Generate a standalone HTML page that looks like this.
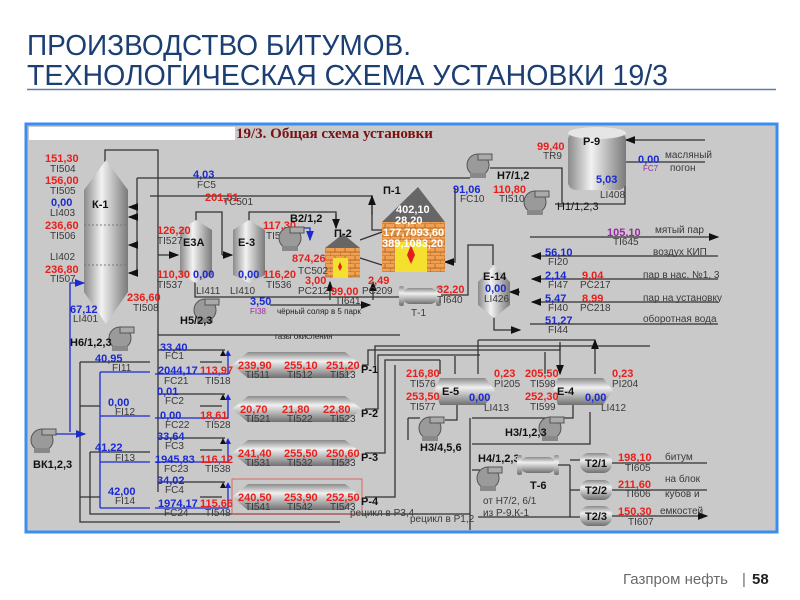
<!DOCTYPE html>
<html><head><meta charset="utf-8"><style>
html,body{margin:0;padding:0;background:#fff;width:800px;height:600px;overflow:hidden}
svg{display:block}
text{font-family:"Liberation Sans",sans-serif}
.r{fill:#e8201c;font-size:11px;font-weight:bold}
.b{fill:#1a2ad0;font-size:11px;font-weight:bold}
.g{fill:#3a3a3a;font-size:10px}
.k{fill:#111;font-size:11px;font-weight:bold}
.w{fill:#fff;font-size:11px;font-weight:bold}
.p{fill:#9a2aa0;font-size:11px;font-weight:bold}
.s{fill:#222;font-size:8px}
.ln{stroke:#333;stroke-width:1.3;fill:none}
.bl{stroke:#1a2ad0;stroke-width:1.3;fill:none}
</style></head><body>
<svg width="800" height="600" viewBox="0 0 800 600" xmlns="http://www.w3.org/2000/svg">
<defs>
<linearGradient id="vg" x1="0" x2="1" y1="0" y2="0"><stop offset="0" stop-color="#8a8a8a"/><stop offset=".4" stop-color="#f2f2f2"/><stop offset="1" stop-color="#7a7a7a"/></linearGradient>
<linearGradient id="hg" x1="0" x2="0" y1="0" y2="1"><stop offset="0" stop-color="#8a8a8a"/><stop offset=".35" stop-color="#f0f0f0"/><stop offset="1" stop-color="#707070"/></linearGradient>
<pattern id="br" width="10" height="8" patternUnits="userSpaceOnUse"><rect width="10" height="8" fill="#f0a050"/><path d="M0 4H10M0 8H10M5 0V4M0 4V8" stroke="#9a5a20" stroke-width=".7"/></pattern>
<marker id="a" markerWidth="8" markerHeight="8" refX="7" refY="4" orient="auto"><path d="M0 1L8 4L0 7z" fill="#111"/></marker>
<marker id="ab" markerWidth="8" markerHeight="8" refX="7" refY="4" orient="auto"><path d="M0 1L8 4L0 7z" fill="#1a2ad0"/></marker>
<g id="pump"><circle cx="0" cy="0" r="11" fill="#9a9a9a" stroke="#555"/><rect x="0" y="-11" width="14" height="6" fill="#aaa" stroke="#555"/><rect x="-8" y="8" width="16" height="5" fill="#888"/></g>
<g id="hx"><rect x="-18" y="-8" width="36" height="16" rx="8" fill="url(#hg)"/><rect x="-21" y="-10" width="5" height="20" rx="2" fill="url(#hg)"/><rect x="16" y="-10" width="5" height="20" rx="2" fill="url(#hg)"/></g>
</defs>

<text x="27" y="55" textLength="384" lengthAdjust="spacingAndGlyphs" style="font-size:29px;fill:#1b3f72">ПРОИЗВОДСТВО БИТУМОВ.</text>
<text x="27" y="85" textLength="641" lengthAdjust="spacingAndGlyphs" style="font-size:29px;fill:#1b3f72">ТЕХНОЛОГИЧЕСКАЯ СХЕМА УСТАНОВКИ 19/3</text>
<line x1="27" y1="89.5" x2="776" y2="89.5" stroke="#5a7fae" stroke-width="1.5"/>

<rect x="26" y="124" width="751" height="408" fill="#c9c9c9" stroke="#3a8ef0" stroke-width="3"/>
<rect x="29" y="127" width="206" height="13" fill="#fff"/>
<text x="236" y="138" style="font-family:'Liberation Serif',serif;font-size:15px;font-weight:bold;fill:#7a1010">19/3. Общая схема установки</text>

<path class="ln" d="M105 162V150H158V492"/>
<path class="ln" d="M137 178H470"/>
<path class="ln" d="M137 178V275"/>
<path class="ln" marker-end="url(#a)" d="M137 207H129"/>
<path class="ln" marker-end="url(#a)" d="M137 217H129"/>
<path class="ln" marker-end="url(#a)" d="M137 245H129"/>
<path class="ln" marker-end="url(#a)" d="M137 273H129"/>
<path class="ln" d="M150 196H372V230H382"/>
<path class="ln" marker-end="url(#a)" d="M372 215V196"/>
<path class="ln" marker-end="url(#a)" d="M158 255H178"/>
<path class="ln" d="M196 222V212H222V255"/>
<path class="ln" marker-end="url(#a)" d="M222 255H232"/>
<path class="ln" d="M249 222V212H336V228"/>
<path class="ln" marker-end="url(#a)" d="M336 214V228"/>
<path class="bl" marker-end="url(#ab)" d="M300 228H310V240"/>
<path class="ln" d="M195 282V297H400"/>
<path class="ln" marker-end="url(#a)" d="M270 305H370"/>
<path class="ln" d="M360 258L382 265M360 240L382 232"/>
<path class="ln" marker-end="url(#a)" d="M330 300V282"/>
<path class="ln" marker-end="url(#a)" d="M373 300V282"/>
<path class="ln" marker-end="url(#a)" d="M455 188V262H445"/>
<path class="ln" d="M440 295H468V245H493V265"/>
<path class="ln" marker-end="url(#a)" d="M494 315V330H520"/>
<path class="ln" marker-end="url(#a)" d="M520 292H510"/>
<path class="ln" d="M490 168H562V204M555 204H625V140H705M625 162H705"/>
<path class="ln" marker-end="url(#a)" d="M632 140H626"/>
<path class="ln" d="M158 335H400"/>
<path class="ln" marker-end="url(#a)" d="M530 237H718"/>
<path class="ln" marker-end="url(#a)" d="M718 256H532"/>
<path class="ln" marker-end="url(#a)" d="M718 279H532"/>
<path class="ln" marker-end="url(#a)" d="M718 302H532"/>
<path class="ln" d="M530 324H718"/>

<path d="M84 190L106 160L128 190V292L106 324L84 292Z" fill="url(#vg)"/>
<path d="M84 225H128M84 265H128" stroke="#777" stroke-dasharray="2 2"/>
<text class="k" x="92" y="208">К-1</text>
<text class="r" x="45" y="162">151,30</text><text class="g" x="50" y="172">TI504</text>
<text class="r" x="45" y="184">156,00</text><text class="g" x="50" y="194">TI505</text>
<text class="b" x="51" y="206">0,00</text><text class="g" x="50" y="216">LI403</text>
<text class="r" x="45" y="229">236,60</text><text class="g" x="50" y="239">TI506</text>
<text class="g" x="50" y="260">LI402</text>
<text class="r" x="45" y="273">236,80</text><text class="g" x="50" y="282">TI507</text>
<path class="bl" marker-end="url(#ab)" d="M70 432V283H84"/>
<text class="b" x="70" y="313">67,12</text><text class="g" x="73" y="322">LI401</text>
<text class="r" x="127" y="301">236,60</text><text class="g" x="133" y="311">TI508</text>

<path d="M180 230L196 220L212 230V275L196 283L180 275Z" fill="url(#vg)"/>
<path d="M233 230L249 220L265 230V275L249 283L233 275Z" fill="url(#vg)"/>
<text class="k" x="183" y="246">Е3А</text><text class="k" x="238" y="246">Е-3</text>
<text class="b" x="193" y="278">0,00</text><text class="g" x="196" y="294">LI411</text>
<text class="b" x="238" y="278">0,00</text><text class="g" x="230" y="294">LI410</text>
<text class="r" x="157" y="234">126,20</text><text class="g" x="157" y="244">TI527</text>
<text class="r" x="157" y="278">110,30</text><text class="g" x="157" y="288">TI537</text>
<text class="r" x="263" y="278">116,20</text><text class="g" x="266" y="288">TI536</text>
<text class="r" x="263" y="229">117,30</text><text class="g" x="266" y="239">TI526</text>
<text class="k" x="290" y="222">В2/1,2</text>
<use href="#pump" x="290" y="238"/>
<text class="r" x="205" y="201">201,51</text><text class="g" x="223" y="205">TC501</text>
<text class="b" x="193" y="178">4,03</text><text class="g" x="197" y="188">FC5</text>

<path d="M325 248L343 234L360 248Z" fill="#666"/>
<rect x="325" y="248" width="35" height="30" fill="url(#br)"/>
<rect x="333" y="258" width="15" height="20" fill="#f5e030"/>
<path d="M340 262l2 5-2 4-2-4z" fill="#e02020"/>
<text class="k" x="334" y="237">П-2</text>
<text class="r" x="292" y="262">874,26</text><text class="g" x="298" y="274">TC502</text>
<text class="r" x="305" y="284">3,00</text><text class="g" x="298" y="294">PC212</text>
<text class="r" x="331" y="295">99,00</text><text class="g" x="335" y="304">TI641</text>

<path d="M382 222L418 187L445 222Z" fill="#666"/>
<rect x="382" y="222" width="63" height="50" fill="url(#br)"/>
<rect x="395" y="242" width="32" height="30" fill="#f5e030"/>
<path d="M411 245l4 10-4 9-4-9z" fill="#e02020"/>
<text class="k" x="383" y="194">П-1</text>
<text class="w" x="396" y="213">402,10</text>
<text class="w" x="395" y="224">28,20</text>
<text class="w" x="383" y="236">177,7093,60</text>
<text class="w" x="382" y="247">389,1083,20</text>
<text class="r" x="368" y="284">2,49</text><text class="g" x="362" y="294">PC209</text>

<use href="#hx" x="420" y="296"/>
<text class="g" x="411" y="316">Т-1</text>
<text class="r" x="437" y="293">32,20</text><text class="g" x="437" y="303">TI640</text>
<use href="#pump" x="205" y="310"/>
<text class="k" x="180" y="324">Н5/2,3</text>
<text class="b" x="250" y="305">3,50</text><text class="p" style="font-size:8px;font-weight:normal" x="250" y="314">FI38</text>
<text class="s" x="277" y="314">чёрный соляр в 5 парк</text>
<text class="s" x="275" y="339">газы окисления</text>

<path d="M478 282L494 265L510 282V305L494 318L478 305Z" fill="url(#vg)"/>
<text class="k" x="483" y="280">Е-14</text><text class="b" x="485" y="292">0,00</text><text class="g" x="484" y="302">LI426</text>

<rect x="568" y="132" width="58" height="58" rx="8" fill="url(#vg)"/>
<ellipse cx="597" cy="133" rx="29" ry="6" fill="#e5e5e5"/>
<text class="k" x="583" y="145">Р-9</text>
<text class="b" x="596" y="183">5,03</text><text class="g" x="600" y="198">LI408</text>
<text class="r" x="537" y="150">99,40</text><text class="g" x="543" y="159">TR9</text>
<use href="#pump" x="478" y="165"/>
<text class="k" x="497" y="179">Н7/1,2</text>
<text class="b" x="453" y="193">91,06</text><text class="g" x="460" y="202">FC10</text>
<text class="r" x="493" y="193">110,80</text><text class="g" x="499" y="202">TI510</text>
<use href="#pump" x="535" y="202"/>
<text class="k" style="font-weight:normal" x="557" y="210">Н1/1,2,3</text>
<text class="b" x="638" y="163">0,00</text><text class="p" style="font-size:8px;font-weight:normal" x="643" y="171">FC7</text>
<text class="g" x="665" y="158">масляный</text><text class="g" x="670" y="171">погон</text>

<text class="p" x="607" y="236">105,10</text><text class="g" x="613" y="245">TI645</text><text class="g" x="655" y="233">мятый пар</text>
<text class="b" x="545" y="256">56,10</text><text class="g" x="548" y="265">FI20</text><text class="g" x="653" y="255">воздух КИП</text>
<text class="b" x="545" y="279">2,14</text><text class="g" x="548" y="288">FI47</text><text class="r" x="582" y="279">9,04</text><text class="g" x="580" y="288">PC217</text><text class="g" x="643" y="278">пар в нас. №1, 3</text>
<text class="b" x="545" y="302">5,47</text><text class="g" x="548" y="311">FI40</text><text class="r" x="582" y="302">8,99</text><text class="g" x="580" y="311">PC218</text><text class="g" x="643" y="301">пар на установку</text>
<text class="b" x="545" y="324">51,27</text><text class="g" x="548" y="333">FI44</text><text class="g" x="643" y="322">оборотная вода</text>

<use href="#pump" x="120" y="338"/>
<text class="k" x="70" y="346">Н6/1,2,3</text>

<path class="ln" d="M80 362H150M80 362V522H340"/>
<path class="ln" d="M90 452H150M90 452V514H470"/>
<path class="ln" d="M158 350H225M158 394H225M158 438H225M158 482H225"/>
<path class="ln" d="M80 406H100M80 497H100"/>
<path class="bl" marker-end="url(#ab)" d="M48 434H85"/>
<path class="bl" d="M100 372V508M100 372H150M100 416H150M100 462H150M100 508H150"/>
<path class="bl" d="M155 374H228V352M155 418H228V396M155 462H228V440M155 508H228V484"/>
<path class="ln" d="M200 362H222M200 406H222M200 450H222M200 497H222"/>
<g fill="#111"><path d="M220 356l3-6 3 6zM220 400l3-6 3 6zM220 444l3-6 3 6zM220 488l3-6 3 6z"/></g>
<g fill="#1a2ad0"><path d="M225 356l3-6 3 6zM225 400l3-6 3 6zM225 444l3-6 3 6zM225 488l3-6 3 6z"/></g>
<use href="#pump" x="42" y="440"/>
<text class="k" x="33" y="468">ВК1,2,3</text>
<text class="b" x="95" y="362">40,95</text><text class="g" x="112" y="371">FI11</text>
<text class="b" x="108" y="406">0,00</text><text class="g" x="115" y="415">FI12</text>
<text class="b" x="95" y="451">41,22</text><text class="g" x="115" y="461">FI13</text>
<text class="b" x="108" y="495">42,00</text><text class="g" x="115" y="504">FI14</text>
<text class="b" x="160" y="351">33,40</text><text class="g" x="165" y="359">FC1</text>
<text class="b" x="158" y="374">2044,17</text><text class="g" x="164" y="384">FC21</text><text class="r" x="200" y="374">113,97</text><text class="g" x="205" y="384">TI518</text>
<text class="b" x="157" y="395">0,01</text><text class="g" x="165" y="404">FC2</text>
<text class="b" x="160" y="419">0,00</text><text class="g" x="165" y="428">FC22</text><text class="r" x="200" y="419">18,61</text><text class="g" x="205" y="428">TI528</text>
<text class="b" x="157" y="440">33,64</text><text class="g" x="165" y="449">FC3</text>
<text class="b" x="155" y="463">1945,83</text><text class="g" x="164" y="472">FC23</text><text class="r" x="200" y="463">116,12</text><text class="g" x="205" y="472">TI538</text>
<text class="b" x="157" y="484">34,02</text><text class="g" x="165" y="493">FC4</text>
<text class="b" x="158" y="507">1974,17</text><text class="g" x="164" y="516">FC24</text><text class="r" x="200" y="507">115,66</text><text class="g" x="205" y="516">TI548</text>

<g>
<path d="M232 365L248 352H345L362 365L345 378H248Z" fill="url(#hg)"/>
<path d="M232 409L248 396H345L362 409L345 422H248Z" fill="url(#hg)"/>
<path d="M232 453L248 440H345L362 453L345 466H248Z" fill="url(#hg)"/>
<path d="M232 497L248 484H345L362 497L345 510H248Z" fill="url(#hg)"/>
</g>
<rect x="232" y="479" width="130" height="35" fill="none" stroke="#e05050" stroke-width=".8"/>
<text class="r" x="238" y="369">239,90</text><text class="r" x="284" y="369">255,10</text><text class="r" x="326" y="369">251,20</text>
<text class="g" x="245" y="378">TI511</text><text class="g" x="287" y="378">TI512</text><text class="g" x="330" y="378">TI513</text>
<text class="r" x="240" y="413">20,70</text><text class="r" x="282" y="413">21,80</text><text class="r" x="323" y="413">22,80</text>
<text class="g" x="245" y="422">TI521</text><text class="g" x="287" y="422">TI522</text><text class="g" x="330" y="422">TI523</text>
<text class="r" x="238" y="457">241,40</text><text class="r" x="284" y="457">255,50</text><text class="r" x="326" y="457">250,60</text>
<text class="g" x="245" y="466">TI531</text><text class="g" x="287" y="466">TI532</text><text class="g" x="330" y="466">TI533</text>
<text class="r" x="238" y="501">240,50</text><text class="r" x="284" y="501">253,90</text><text class="r" x="326" y="501">252,50</text>
<text class="g" x="245" y="510">TI541</text><text class="g" x="287" y="510">TI542</text><text class="g" x="330" y="510">TI543</text>
<text class="k" x="361" y="373">Р-1</text><text class="k" x="361" y="417">Р-2</text><text class="k" x="361" y="461">Р-3</text><text class="k" x="361" y="505">Р-4</text>
<path class="ln" d="M362 365H368V350H560V342M375 365V346H650M365 409H378V355H480M365 453H385V360H440M365 497H395V365"/>
<path class="ln" marker-end="url(#a)" d="M440 360V374M455 356V374M545 352V374M560 346V374"/>
<path class="ln" marker-end="url(#a)" d="M478 374V340M595 374V340"/>
<path class="ln" d="M478 340H595"/>
<text class="g" x="350" y="516">рецикл в Р3,4</text>
<text class="g" x="410" y="522">рецикл в Р1,2</text>

<path d="M440 378H485L495 390L485 405H440L435 390Z" fill="url(#hg)"/>
<path d="M558 378H603L613 390L603 405H558L553 390Z" fill="url(#hg)"/>
<text class="k" x="442" y="395">Е-5</text><text class="k" x="557" y="395">Е-4</text>
<text class="r" x="406" y="377">216,80</text><text class="g" x="410" y="387">TI576</text>
<text class="r" x="406" y="400">253,50</text><text class="g" x="410" y="410">TI577</text>
<text class="b" x="469" y="401">0,00</text><text class="g" x="484" y="411">LI413</text>
<text class="r" x="494" y="377">0,23</text><text class="g" x="494" y="387">PI205</text>
<text class="r" x="525" y="377">205,50</text><text class="g" x="530" y="387">TI598</text>
<text class="r" x="525" y="400">252,30</text><text class="g" x="530" y="410">TI599</text>
<text class="b" x="585" y="401">0,00</text><text class="g" x="601" y="411">LI412</text>
<text class="r" x="612" y="377">0,23</text><text class="g" x="612" y="387">PI204</text>
<path class="ln" d="M457 405V420H445M408 418V440M408 418H420M470 418V530M472 418H573V405M472 444H590V412M472 470H480"/>
<use href="#pump" x="430" y="428"/>
<text class="k" x="420" y="451">Н3/4,5,6</text>
<use href="#pump" x="550" y="428"/>
<text class="k" x="505" y="436">Н3/1,2,3</text>
<text class="k" x="478" y="462">Н4/1,2,3</text>
<use href="#pump" x="488" y="478"/>
<use href="#hx" x="538" y="465"/>
<text class="k" x="530" y="489">Т-6</text>
<path class="ln" d="M558 465H570M570 465V517M570 460H580M570 490H580M570 517H580M478 517H580"/>
<g><rect x="580" y="453" width="32" height="20" rx="9" fill="url(#hg)"/><rect x="580" y="480" width="32" height="20" rx="9" fill="url(#hg)"/><rect x="580" y="506" width="32" height="20" rx="9" fill="url(#hg)"/></g>
<text class="k" x="585" y="467">Т2/1</text><text class="k" x="585" y="494">Т2/2</text><text class="k" x="585" y="520">Т2/3</text>
<path class="ln" marker-end="url(#a)" d="M612 463H707M612 490H707M612 516H707"/>
<text class="r" x="618" y="461">198,10</text><text class="g" x="625" y="471">TI605</text><text class="g" x="665" y="460">битум</text>
<text class="r" x="618" y="488">211,60</text><text class="g" x="625" y="497">TI606</text><text class="g" x="665" y="482">на блок</text><text class="g" x="665" y="497">кубов и</text>
<text class="r" x="618" y="515">150,30</text><text class="g" x="628" y="525">TI607</text><text class="g" x="660" y="514">емкостей</text>
<text class="g" x="483" y="504">от Н7/2, 6/1</text><text class="g" x="483" y="516">из Р-9,К-1</text>

<text x="623" y="584" style="font-size:15px;fill:#6a6a6a">Газпром нефть</text>
<text x="742" y="584" style="font-size:15px;fill:#6a6a6a">|</text>
<text x="752" y="584" style="font-size:15px;font-weight:bold;fill:#222">58</text>
</svg>
</body></html>
